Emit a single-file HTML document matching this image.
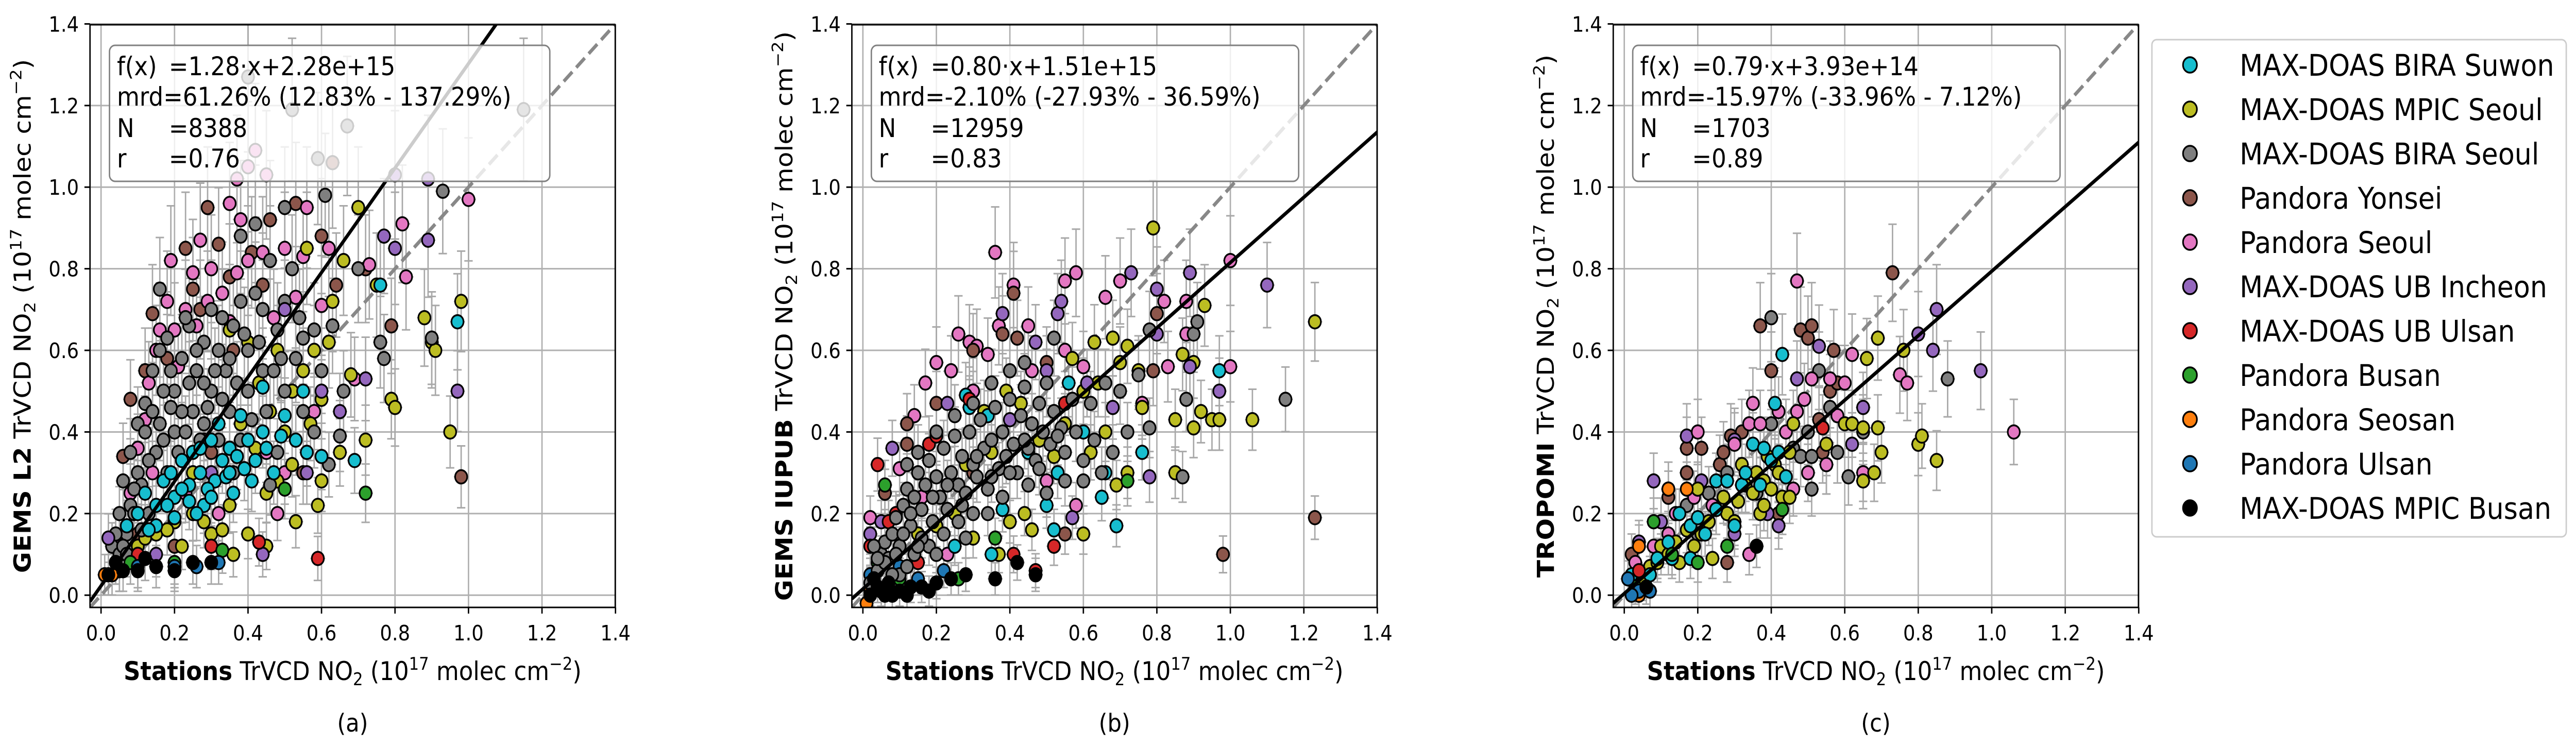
<!DOCTYPE html>
<html><head><meta charset="utf-8">
<style>
html,body{margin:0;padding:0;background:#fff;width:100%;height:100%;overflow:hidden;}
svg{display:block;font-family:"DejaVu Sans","Liberation Sans",sans-serif;overflow:hidden;width:100vw;height:100vh;}
</style></head>
<body>
<svg id="fig" viewBox="0 0 5552 1448" preserveAspectRatio="none" xmlns="http://www.w3.org/2000/svg">
<rect x="0" y="0" width="5552" height="1448" fill="#fff"/>
</svg>
<script>
// ---------- data ----------
const stationNames = ["MAX-DOAS BIRA Suwon","MAX-DOAS MPIC Seoul","MAX-DOAS BIRA Seoul","Pandora Yonsei","Pandora Seoul","MAX-DOAS UB Incheon","MAX-DOAS UB Ulsan","Pandora Busan","Pandora Seosan","Pandora Ulsan","MAX-DOAS MPIC Busan"];
const stationColors = ["#17becf","#bcbd22","#7f7f7f","#8c564b","#e377c2","#9467bd","#d62728","#2ca02c","#ff7f0e","#1f77b4","#000000"];
const xTicks = [0.0,0.2,0.4,0.6,0.8,1.0,1.2,1.4];
const yTicks = [0.0,0.2,0.4,0.6,0.8,1.0,1.2,1.4];
const slopes = [1.28,0.80,0.79];
const intercepts = [0.0228,0.0151,0.00393];
const statLines = [
 ["f(x) ","=1.28·x+2.28e+15","mrd=61.26% (12.83% - 137.29%)","N","=8388","r","=0.76"],
 ["f(x) ","=0.80·x+1.51e+15","mrd=-2.10% (-27.93% - 36.59%)","N","=12959","r","=0.83"],
 ["f(x) ","=0.79·x+3.93e+14","mrd=-15.97% (-33.96% - 7.12%)","N","=1703","r","=0.89"]];
const yLabelsBold = ["GEMS L2","GEMS IUPUB","TROPOMI"];
const panelTags = ["(a)","(b)","(c)"];
const errY = [0.11,0.09,0.1];

const a_cyan=[[0.07,0.17],[0.1,0.2],[0.12,0.25],[0.15,0.22],[0.17,0.28],[0.19,0.3],[0.2,0.24],[0.22,0.33],[0.24,0.27],[0.25,0.35],[0.27,0.3],[0.28,0.22],[0.3,0.38],[0.31,0.28],[0.32,0.42],[0.33,0.33],[0.35,0.36],[0.36,0.25],[0.38,0.44],[0.39,0.31],[0.4,0.38],[0.42,0.33],[0.44,0.4],[0.45,0.36],[0.47,0.3],[0.49,0.39],[0.5,0.44],[0.53,0.38],[0.55,0.5],[0.56,0.35],[0.6,0.34],[0.69,0.33],[0.76,0.76],[0.97,0.67],[0.44,0.51],[0.2,0.19],[0.15,0.17],[0.26,0.2],[0.34,0.29],[0.22,0.26],[0.29,0.26],[0.37,0.34],[0.13,0.16],[0.18,0.22],[0.24,0.23],[0.3,0.24],[0.27,0.36],[0.41,0.28],[0.35,0.3]];
const a_olive=[[0.05,0.1],[0.1,0.12],[0.15,0.15],[0.2,0.18],[0.25,0.2],[0.3,0.15],[0.35,0.22],[0.4,0.15],[0.4,0.62],[0.45,0.25],[0.46,0.45],[0.48,0.6],[0.5,0.4],[0.52,0.5],[0.55,0.55],[0.58,0.6],[0.6,0.48],[0.62,0.62],[0.65,0.35],[0.68,0.54],[0.7,0.95],[0.72,0.38],[0.75,0.76],[0.66,0.82],[0.59,0.22],[0.53,0.18],[0.45,0.12],[0.36,0.1],[0.88,0.68],[0.9,0.62],[0.91,0.6],[0.79,0.48],[0.8,0.46],[0.95,0.4],[0.98,0.72],[0.3,0.3],[0.38,0.42],[0.42,0.36],[0.56,0.35],[0.63,0.72],[0.56,0.85],[0.35,0.65],[0.25,0.3],[0.43,0.52],[0.6,0.28],[0.12,0.14],[0.18,0.16],[0.22,0.12],[0.28,0.18],[0.33,0.16],[0.48,0.28],[0.52,0.32],[0.57,0.42]];
const a_grey=[[0.03,0.12],[0.05,0.2],[0.06,0.28],[0.08,0.35],[0.1,0.42],[0.12,0.47],[0.14,0.55],[0.16,0.6],[0.18,0.63],[0.2,0.5],[0.22,0.58],[0.24,0.66],[0.26,0.55],[0.28,0.62],[0.3,0.7],[0.32,0.6],[0.34,0.55],[0.36,0.66],[0.38,0.72],[0.4,0.6],[0.42,0.74],[0.44,0.55],[0.46,0.82],[0.48,0.65],[0.5,0.72],[0.52,0.8],[0.55,0.63],[0.58,0.65],[0.6,0.55],[0.63,0.66],[0.66,0.5],[0.7,0.8],[0.76,0.62],[0.77,0.58],[0.9,0.63],[0.93,0.99],[0.61,0.98],[0.5,0.95],[0.42,0.91],[0.38,0.88],[0.16,0.75],[0.12,0.4],[0.1,0.3],[0.15,0.35],[0.2,0.4],[0.25,0.45],[0.3,0.5],[0.35,0.45],[0.4,0.5],[0.45,0.45],[0.5,0.5],[0.55,0.45],[0.08,0.22],[0.18,0.3],[0.28,0.42],[0.38,0.38],[0.48,0.35],[0.58,0.4],[0.65,0.39],[0.62,0.32],[0.07,0.15],[0.13,0.2],[0.17,0.5],[0.22,0.45],[0.27,0.38],[0.33,0.48],[0.43,0.62],[0.53,0.58],[0.46,0.27],[0.05,0.1],[0.36,0.3],[0.23,0.68],[0.19,0.55],[0.4,1.27],[0.52,1.19],[0.67,1.15],[0.59,1.07],[1.15,1.19],[0.11,0.27],[0.14,0.45],[0.09,0.2],[0.04,0.15],[0.26,0.6],[0.31,0.55],[0.37,0.52],[0.47,0.55],[0.54,0.68],[0.41,0.43],[0.06,0.12],[0.11,0.16],[0.09,0.26],[0.13,0.33],[0.16,0.42],[0.19,0.46],[0.21,0.35],[0.24,0.52],[0.29,0.46],[0.32,0.38],[0.35,0.58],[0.39,0.64],[0.44,0.7],[0.49,0.58],[0.04,0.08],[0.07,0.1],[0.17,0.38],[0.23,0.4],[0.33,0.68],[0.28,0.52]];
const a_brown=[[0.08,0.48],[0.14,0.69],[0.23,0.85],[0.29,0.95],[0.32,0.86],[0.41,0.84],[0.46,0.92],[0.53,0.96],[0.6,0.88],[0.64,0.76],[0.72,0.8],[0.79,0.66],[0.98,0.29],[0.18,0.58],[0.27,0.7],[0.36,0.6],[0.63,1.06],[0.06,0.34],[0.3,0.35],[0.55,0.3],[0.2,0.12],[0.1,0.15],[0.12,0.55],[0.25,0.75],[0.35,0.78],[0.44,0.76]];
const a_pink=[[0.04,0.14],[0.08,0.25],[0.1,0.36],[0.12,0.43],[0.13,0.52],[0.15,0.6],[0.18,0.72],[0.2,0.65],[0.23,0.7],[0.25,0.79],[0.27,0.87],[0.3,0.8],[0.33,0.74],[0.35,0.67],[0.38,0.92],[0.4,0.82],[0.44,0.84],[0.47,0.68],[0.5,0.85],[0.53,0.73],[0.56,0.95],[0.6,0.71],[0.62,0.85],[0.69,0.53],[0.73,0.81],[0.83,0.78],[0.82,0.91],[1.0,0.97],[0.35,0.96],[0.55,0.83],[0.42,1.09],[0.4,1.05],[0.45,1.03],[0.37,1.02],[0.28,0.38],[0.45,0.35],[0.58,0.45],[0.23,0.25],[0.14,0.3],[0.2,0.18],[0.32,0.2],[0.48,0.2],[0.5,0.3],[0.16,0.65],[0.21,0.56],[0.29,0.72],[0.37,0.79],[0.19,0.82],[0.26,0.66]];
const a_purple=[[0.02,0.14],[0.44,0.1],[0.56,0.3],[0.6,0.5],[0.65,0.45],[0.72,0.53],[0.77,0.88],[0.8,0.85],[0.89,0.87],[0.89,1.02],[0.8,1.03],[0.97,0.5],[0.5,0.7],[0.3,0.3],[0.15,0.1]];
const a_red=[[0.59,0.09],[0.43,0.13],[0.3,0.12],[0.1,0.1],[0.05,0.06]];
const a_green=[[0.72,0.25],[0.5,0.26],[0.33,0.11],[0.2,0.08],[0.08,0.08]];
const a_blue=[[0.32,0.08],[0.2,0.07],[0.1,0.07],[0.05,0.06],[0.26,0.07]];
const a_orange=[[0.01,0.05],[0.03,0.05]];
const a_black=[[0.02,0.05],[0.06,0.06],[0.1,0.06],[0.15,0.07],[0.2,0.06],[0.25,0.08],[0.3,0.08],[0.04,0.08],[0.12,0.09]];

const b_grey=[[0.02,0.03],[0.04,0.06],[0.05,0.1],[0.06,0.13],[0.08,0.15],[0.09,0.19],[0.1,0.12],[0.11,0.22],[0.12,0.26],[0.13,0.17],[0.14,0.24],[0.15,0.3],[0.16,0.21],[0.17,0.27],[0.18,0.33],[0.19,0.18],[0.2,0.29],[0.21,0.24],[0.22,0.36],[0.23,0.21],[0.24,0.3],[0.25,0.39],[0.26,0.27],[0.27,0.34],[0.28,0.25],[0.29,0.4],[0.3,0.32],[0.31,0.29],[0.32,0.43],[0.33,0.36],[0.34,0.26],[0.35,0.38],[0.36,0.46],[0.37,0.31],[0.38,0.4],[0.39,0.34],[0.4,0.48],[0.41,0.37],[0.42,0.3],[0.43,0.44],[0.44,0.51],[0.45,0.36],[0.46,0.42],[0.47,0.33],[0.48,0.47],[0.49,0.4],[0.5,0.52],[0.51,0.37],[0.52,0.45],[0.54,0.41],[0.55,0.35],[0.57,0.48],[0.58,0.4],[0.6,0.33],[0.62,0.47],[0.63,0.38],[0.66,0.52],[0.68,0.35],[0.7,0.5],[0.72,0.4],[0.75,0.54],[0.78,0.41],[0.52,0.63],[0.44,0.57],[0.4,0.55],[0.35,0.52],[0.3,0.47],[0.25,0.44],[0.2,0.4],[0.15,0.35],[0.12,0.32],[0.88,0.48],[0.87,0.29],[0.9,0.64],[0.91,0.67],[0.78,0.65],[1.15,0.48],[0.03,0.12],[0.07,0.09],[0.1,0.05],[0.14,0.1],[0.18,0.12],[0.22,0.15],[0.26,0.18],[0.3,0.2],[0.34,0.2],[0.38,0.24],[0.45,0.27],[0.5,0.25],[0.55,0.28],[0.6,0.28],[0.65,0.3],[0.08,0.05],[0.16,0.14],[0.06,0.08],[0.12,0.07],[0.2,0.1],[0.28,0.14],[0.09,0.1],[0.11,0.15],[0.15,0.12],[0.19,0.24],[0.23,0.27],[0.27,0.22],[0.31,0.34],[0.35,0.29],[0.4,0.3],[0.44,0.38],[0.48,0.31],[0.53,0.39],[0.04,0.09],[0.13,0.2]];
const b_black=[[0.02,0.0],[0.05,0.01],[0.08,0.0],[0.1,0.01],[0.13,0.02],[0.16,0.02],[0.2,0.03],[0.24,0.04],[0.36,0.04],[0.42,0.08],[0.47,0.05],[0.04,0.02],[0.07,0.03],[0.12,0.0],[0.28,0.05],[0.03,0.04],[0.06,0.0],[0.18,0.01]];
const b_pink=[[0.02,0.19],[0.06,0.25],[0.1,0.31],[0.14,0.44],[0.17,0.52],[0.2,0.57],[0.24,0.55],[0.26,0.64],[0.29,0.62],[0.31,0.61],[0.34,0.59],[0.36,0.84],[0.37,0.66],[0.41,0.76],[0.45,0.66],[0.55,0.77],[0.58,0.79],[0.66,0.73],[0.7,0.77],[0.82,0.72],[0.88,0.72],[0.88,0.64],[0.83,0.56],[1.0,0.82],[1.0,0.56],[0.76,0.47],[0.6,0.56],[0.55,0.6],[0.46,0.55],[0.3,0.5],[0.16,0.24],[0.23,0.1],[0.58,0.22],[0.5,0.28]];
const b_olive=[[0.1,0.12],[0.15,0.15],[0.2,0.17],[0.25,0.2],[0.3,0.14],[0.37,0.1],[0.4,0.18],[0.44,0.2],[0.5,0.25],[0.52,0.34],[0.55,0.42],[0.57,0.58],[0.6,0.5],[0.63,0.62],[0.64,0.52],[0.68,0.63],[0.7,0.57],[0.72,0.61],[0.75,0.55],[0.76,0.46],[0.79,0.9],[0.85,0.43],[0.87,0.59],[0.9,0.57],[0.92,0.45],[0.93,0.71],[0.95,0.43],[0.97,0.43],[0.9,0.41],[0.85,0.3],[1.06,0.43],[1.23,0.67],[0.72,0.3],[0.69,0.27],[0.6,0.15],[0.46,0.16],[0.39,0.5],[0.43,0.47],[0.48,0.38],[0.35,0.35],[0.28,0.32],[0.33,0.45],[0.62,0.35],[0.66,0.4]];
const b_purple=[[0.02,0.15],[0.05,0.18],[0.08,0.36],[0.23,0.47],[0.38,0.69],[0.47,0.62],[0.53,0.69],[0.54,0.72],[0.61,0.52],[0.68,0.46],[0.73,0.79],[0.8,0.75],[0.8,0.64],[0.89,0.79],[0.89,0.56],[0.97,0.5],[1.1,0.76],[0.78,0.29],[0.57,0.19],[0.5,0.55],[0.4,0.43]];
const b_brown=[[0.06,0.25],[0.12,0.37],[0.12,0.42],[0.2,0.47],[0.3,0.6],[0.38,0.64],[0.41,0.74],[0.42,0.63],[0.5,0.57],[0.6,0.5],[0.8,0.69],[0.79,0.55],[0.98,0.1],[1.23,0.19],[0.55,0.15],[0.3,0.3]];
const b_cyan=[[0.1,0.05],[0.25,0.12],[0.28,0.49],[0.29,0.46],[0.34,0.44],[0.38,0.21],[0.45,0.35],[0.5,0.22],[0.53,0.3],[0.56,0.52],[0.6,0.4],[0.65,0.24],[0.66,0.3],[0.69,0.17],[0.76,0.35],[0.97,0.55],[0.52,0.16],[0.35,0.1]];
const b_red=[[0.04,0.32],[0.02,0.12],[0.07,0.18],[0.09,0.2],[0.18,0.37],[0.2,0.39],[0.29,0.48],[0.41,0.1],[0.47,0.06],[0.52,0.12],[0.55,0.47],[0.15,0.08]];
const b_green=[[0.06,0.27],[0.1,0.04],[0.26,0.04],[0.36,0.14],[0.72,0.28],[0.04,0.08]];
const b_blue=[[0.02,0.05],[0.1,0.07],[0.15,0.04],[0.22,0.06]];
const b_orange=[[0.01,-0.02],[0.02,0.01]];

const c_olive=[[0.03,0.05],[0.05,0.03],[0.07,0.07],[0.09,0.08],[0.1,0.12],[0.12,0.1],[0.14,0.13],[0.15,0.08],[0.17,0.16],[0.19,0.12],[0.2,0.26],[0.21,0.15],[0.23,0.18],[0.24,0.09],[0.25,0.21],[0.27,0.24],[0.28,0.2],[0.3,0.18],[0.31,0.23],[0.32,0.32],[0.33,0.27],[0.35,0.25],[0.36,0.3],[0.37,0.2],[0.38,0.28],[0.39,0.34],[0.4,0.26],[0.41,0.32],[0.42,0.3],[0.43,0.24],[0.45,0.35],[0.46,0.42],[0.38,0.22],[0.6,0.42],[0.62,0.42],[0.65,0.41],[0.66,0.58],[0.69,0.63],[0.69,0.41],[0.7,0.35],[0.76,0.6],[0.8,0.37],[0.81,0.39],[0.85,0.33],[0.68,0.3],[0.65,0.28],[0.55,0.37],[0.45,0.24]];
const c_cyan=[[0.02,0.05],[0.07,0.05],[0.09,0.09],[0.12,0.13],[0.15,0.2],[0.18,0.17],[0.2,0.19],[0.22,0.15],[0.25,0.28],[0.25,0.21],[0.28,0.28],[0.3,0.17],[0.32,0.27],[0.33,0.3],[0.35,0.37],[0.37,0.27],[0.38,0.36],[0.4,0.33],[0.42,0.35],[0.43,0.59],[0.41,0.47],[0.44,0.29],[0.18,0.09],[0.13,0.09]];
const c_pink=[[0.03,0.08],[0.08,0.12],[0.12,0.15],[0.14,0.2],[0.2,0.4],[0.19,0.24],[0.24,0.22],[0.3,0.37],[0.34,0.42],[0.35,0.47],[0.37,0.42],[0.42,0.45],[0.44,0.4],[0.47,0.45],[0.47,0.77],[0.49,0.48],[0.5,0.3],[0.51,0.53],[0.55,0.32],[0.56,0.53],[0.58,0.44],[0.6,0.52],[0.62,0.59],[0.65,0.3],[0.75,0.54],[0.77,0.52],[1.06,0.4],[0.46,0.26],[0.34,0.1]];
const c_brown=[[0.02,0.1],[0.12,0.24],[0.12,0.26],[0.17,0.36],[0.17,0.3],[0.21,0.36],[0.26,0.32],[0.27,0.35],[0.29,0.39],[0.32,0.4],[0.37,0.66],[0.4,0.55],[0.48,0.65],[0.5,0.63],[0.51,0.66],[0.53,0.43],[0.54,0.35],[0.57,0.6],[0.56,0.5],[0.58,0.52],[0.73,0.79],[0.42,0.2],[0.28,0.08]];
const c_grey=[[0.1,0.1],[0.17,0.22],[0.23,0.25],[0.28,0.3],[0.36,0.25],[0.4,0.42],[0.4,0.68],[0.46,0.36],[0.48,0.34],[0.5,0.4],[0.51,0.34],[0.51,0.26],[0.53,0.55],[0.55,0.32],[0.56,0.46],[0.58,0.35],[0.61,0.29],[0.65,0.4],[0.88,0.53],[0.2,0.15]];
const c_purple=[[0.04,0.13],[0.08,0.28],[0.1,0.18],[0.17,0.39],[0.21,0.28],[0.3,0.38],[0.39,0.2],[0.42,0.17],[0.47,0.53],[0.53,0.61],[0.62,0.37],[0.65,0.46],[0.8,0.64],[0.84,0.6],[0.85,0.7],[0.97,0.55],[0.3,0.15]];
const c_red=[[0.54,0.41],[0.04,0.06]];
const c_green=[[0.08,0.18],[0.03,0.02],[0.13,0.1],[0.28,0.12],[0.43,0.21],[0.2,0.08]];
const c_orange=[[0.17,0.26],[0.12,0.26],[0.04,0.12],[0.04,0.0]];
const c_blue=[[0.01,0.04],[0.04,0.01],[0.07,0.01],[0.02,0.0]];
const c_black=[[0.36,0.12],[0.06,0.02]];

const panelSeries = [
 [[3,a_brown],[4,a_pink],[1,a_olive],[2,a_grey],[5,a_purple],[0,a_cyan],[6,a_red],[7,a_green],[9,a_blue],[8,a_orange],[10,a_black]],
 [[4,b_pink],[3,b_brown],[1,b_olive],[5,b_purple],[0,b_cyan],[6,b_red],[7,b_green],[9,b_blue],[8,b_orange],[2,b_grey],[10,b_black]],
 [[3,c_brown],[2,c_grey],[5,c_purple],[4,c_pink],[1,c_olive],[0,c_cyan],[6,c_red],[7,c_green],[8,c_orange],[9,c_blue],[10,c_black]]
];

// ---------- layout ----------
const NS="http://www.w3.org/2000/svg";
const svg=document.getElementById('fig');
const panelLeft=[194,1836,3477];
const AX_W=1132, AX_TOP=48, AX_BOT=1179, UNIT=792, MIN=-0.03, MAX=1.4;
const boxW=[949,921,921];
function mk(tag,attrs,parent){const e=document.createElementNS(NS,tag);for(const k in attrs)e.setAttribute(k,attrs[k]);(parent||svg).appendChild(e);return e;}
const clampV=v=>Math.max(MIN,Math.min(MAX,v));

for(let p=0;p<3;p++){
  const L=panelLeft[p];
  const sx=v=>L+(clampV(v)-MIN)*UNIT;
  const sy=v=>AX_BOT-(clampV(v)-MIN)*UNIT;
  const g=mk('g',{});
  
  
  const cp=mk('clipPath',{id:'clip'+p},g);
  mk('rect',{x:L,y:AX_TOP,width:AX_W,height:AX_BOT-AX_TOP},cp);
  const grid=mk('g',{stroke:'#b0b0b0','stroke-width':3},g);
  
  
  xTicks.forEach(t=>mk('line',{x1:sx(t),x2:sx(t),y1:AX_TOP,y2:AX_BOT},grid));
  yTicks.forEach(t=>mk('line',{x1:L,x2:L+AX_W,y1:sy(t),y2:sy(t)},grid));
  const plot=mk('g',{'clip-path':'url(#clip'+p+')'},g);
  
  
  const eb=mk('g',{stroke:'#a8a8a8','stroke-width':3,fill:'none'},plot);
  
  
  panelSeries[p].forEach(([si,pts])=>pts.forEach(([x,y])=>{
    const e=errY[p]*(0.4+y);
    mk('line',{x1:sx(x),x2:sx(x),y1:sy(y-e),y2:sy(y+e)},eb);
    mk('line',{x1:sx(x)-9,x2:sx(x)+9,y1:sy(y-e),y2:sy(y-e)},eb);
    mk('line',{x1:sx(x)-9,x2:sx(x)+9,y1:sy(y+e),y2:sy(y+e)},eb);
    mk('line',{x1:sx(x-0.02),x2:sx(x+0.02),y1:sy(y),y2:sy(y)},eb);
  }));
  const one=mk('line',{x1:sx(MIN),y1:sy(MIN),x2:sx(MAX),y2:sy(MAX),stroke:'#888','stroke-width':7,'stroke-dasharray':'26 12'},plot);
  
  
  panelSeries[p].forEach(([si,pts])=>{
    const sg=mk('g',{fill:stationColors[si],stroke:'#000','stroke-width':3.5},plot);
    
    
    pts.forEach(([x,y])=>{
      const c=mk('circle',{cx:sx(x),cy:sy(y),r:13},sg);
      
      
    });
  });
  const xEnd=Math.min(MAX,(MAX-intercepts[p])/slopes[p]);
  const xStart=Math.max(MIN,(MIN-intercepts[p])/slopes[p]);
  const rl=mk('line',{x1:sx(xStart),y1:sy(slopes[p]*xStart+intercepts[p]),x2:sx(xEnd),y2:sy(slopes[p]*xEnd+intercepts[p]),stroke:'#000','stroke-width':7},plot);
  
  
  const bx=L+42, by=88;
  const sb=mk('g',{},g);
  
  
  mk('rect',{x:bx,y:by,width:boxW[p],height:264,rx:12,fill:'rgba(255,255,255,0.8)',stroke:'#808080','stroke-width':3},sb);
  const s=statLines[p];
  const base=[146,205,266,325];
  const tf={'font-size':50,fill:'#000'};
  const t1=mk('text',Object.assign({x:bx+16,y:base[0]},tf),sb);t1.textContent=s[0];
  const t1b=mk('text',Object.assign({x:bx+128,y:base[0]},tf),sb);t1b.textContent=s[1];
  const t2=mk('text',Object.assign({x:bx+16,y:base[1]},tf),sb);t2.textContent=s[2];
  const t3=mk('text',Object.assign({x:bx+16,y:base[2]},tf),sb);t3.textContent=s[3];
  const t3b=mk('text',Object.assign({x:bx+128,y:base[2]},tf),sb);t3b.textContent=s[4];
  const t4=mk('text',Object.assign({x:bx+16,y:base[3]},tf),sb);t4.textContent=s[5];
  const t4b=mk('text',Object.assign({x:bx+128,y:base[3]},tf),sb);t4b.textContent=s[6];
  const sp=mk('rect',{x:L,y:AX_TOP,width:AX_W,height:AX_BOT-AX_TOP,fill:'none',stroke:'#000','stroke-width':3},g);
  
  
  const tk=mk('g',{stroke:'#000','stroke-width':3},g);
  xTicks.forEach(t=>mk('line',{x1:sx(t),x2:sx(t),y1:AX_BOT,y2:AX_BOT+12},tk));
  yTicks.forEach(t=>mk('line',{x1:L-12,x2:L,y1:sy(t),y2:sy(t)},tk));
  const xl=mk('g',{'font-size':41,'text-anchor':'middle',fill:'#000'},g);
  
  
  xTicks.forEach(t=>{const e=mk('text',{x:sx(t),y:AX_BOT+64},xl);e.textContent=t.toFixed(1);});
  const yl=mk('g',{'font-size':41,'text-anchor':'end',fill:'#000'},g);
  
  
  yTicks.forEach(t=>{const e=mk('text',{x:L-24,y:sy(t)+15},yl);e.textContent=t.toFixed(1);});
  const cx=L+AX_W/2;
  const xt=mk('text',{x:cx,y:1320,'font-size':50,'text-anchor':'middle',fill:'#000'},g);
  
  
  xt.innerHTML='<tspan font-weight="bold">Stations</tspan> TrVCD NO<tspan font-size="34" dy="10">2</tspan><tspan dy="-10"> (10</tspan><tspan font-size="34" dy="-20">17</tspan><tspan dy="20"> molec cm</tspan><tspan font-size="34" dy="-20">−2</tspan><tspan dy="20">)</tspan>';
  const cy=(AX_TOP+AX_BOT)/2;
  const yt=mk('text',{x:0,y:0,'font-size':50,'text-anchor':'middle',fill:'#000',transform:`translate(${L-128},${cy}) rotate(-90)`},g);
  
  
  yt.innerHTML='<tspan font-weight="bold">'+yLabelsBold[p]+'</tspan> TrVCD NO<tspan font-size="34" dy="10">2</tspan><tspan dy="-10"> (10</tspan><tspan font-size="34" dy="-20">17</tspan><tspan dy="20"> molec cm</tspan><tspan font-size="34" dy="-20">−2</tspan><tspan dy="20">)</tspan>';
  const pt=mk('text',{x:cx,y:1420,'font-size':48,'text-anchor':'middle',fill:'#000'},g);
  
  
  pt.textContent=panelTags[p];
}

const lg=mk('g',{});


mk('rect',{x:4638,y:77,width:893,height:965,rx:10,fill:'#fff',stroke:'#cccccc','stroke-width':3},lg);
stationNames.forEach((n,i)=>{
  const y=126+i*86;
  const en=mk('g',{},lg);
  
  
  mk('circle',{cx:4720,cy:y,r:15,fill:stationColors[i],stroke:'#000','stroke-width':3.5},en);
  const t=mk('text',{x:4827,y:y+21,'font-size':58,fill:'#000'},en);
  t.textContent=n;
});
</script>
</body></html>
